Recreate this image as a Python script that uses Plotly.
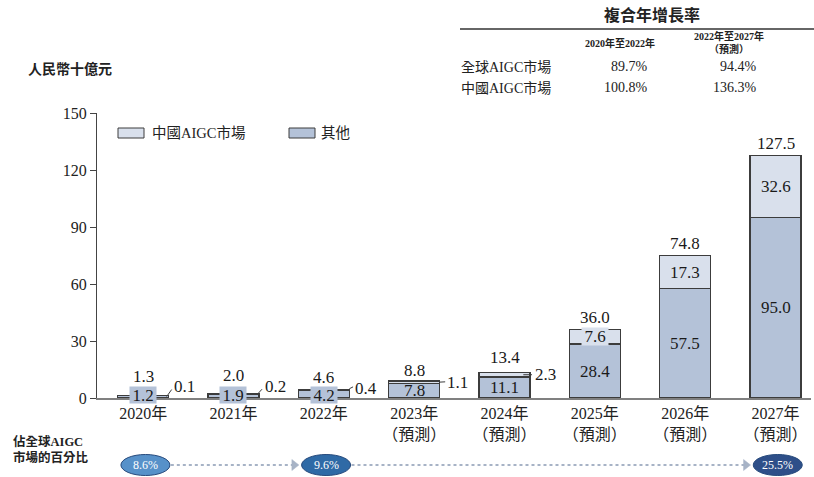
import plotly.graph_objects as go

# ---------------- data ----------------
years = ["2020年", "2021年", "2022年", "2023年", "2024年", "2025年", "2026年", "2027年"]
tick_labels = ["2020年", "2021年", "2022年",
               "2023年<br>（預測）", "2024年<br>（預測）", "2025年<br>（預測）",
               "2026年<br>（預測）", "2027年<br>（預測）"]
other_values = [1.2, 1.9, 4.2, 7.8, 11.1, 28.4, 57.5, 95.0]
china_values = [0.1, 0.2, 0.4, 1.1, 2.3, 7.6, 17.3, 32.6]
total_values = [1.3, 2.0, 4.6, 8.8, 13.4, 36.0, 74.8, 127.5]
y_ticks = [0, 30, 60, 90, 120, 150]

series_names = ["中國AIGC市場", "其他"]

share_years = ["2020年", "2022年", "2027年"]
share_labels = ["8.6%", "9.6%", "25.5%"]

cagr_title = "複合年增長率"
cagr_periods = ["2020年至2022年", "2022年至2027年<br>（預測）"]
cagr_rows = ["全球AIGC市場", "中國AIGC市場"]
cagr_global = ["89.7%", "94.4%"]
cagr_china = ["100.8%", "136.3%"]

unit_label = "人民幣十億元"
share_title = "佔全球AIGC<br>市場的百分比"

# ---------------- style ----------------
FONT = "Liberation Serif, Times New Roman, Noto Sans CJK TC, serif"
LIGHT = "#d9e0ec"
DARK = "#b4c2d8"
EDGE = "#3c3c3c"
W, H = 814, 477
ML, MR, MT, MB = 97, 3, 113, 79
PW, PH = W - ML - MR, H - MT - MB
BAR_W = 0.565
HALF = BAR_W / 2


def px(xp):
    return (xp - ML) / PW


def py(yp):
    return (H - MB - yp) / PH


idx = list(range(len(years)))

fig = go.Figure()
fig.add_trace(go.Bar(x=idx, y=other_values, width=BAR_W, name=series_names[1],
                     marker=dict(color=DARK, line=dict(color=EDGE, width=1.2)),
                     showlegend=False))
fig.add_trace(go.Bar(x=idx, y=china_values, width=BAR_W, name=series_names[0],
                     marker=dict(color=LIGHT, line=dict(color=EDGE, width=1.2)),
                     showlegend=False))

ann = []
shapes = []
lab_font = dict(family=FONT, size=17, color="#1a1a1a")

# totals above bars
total_shift = [19.5, 19.5, 12.5, 11, 15.5, 12.6, 13, 12.7]
for i in idx:
    ann.append(dict(x=i, y=total_values[i], text=f"{total_values[i]:.1f}", showarrow=False,
                    yanchor="middle", yshift=total_shift[i], height=16, font=lab_font))

# bottom-segment labels
for i in idx:
    if i <= 2:
        ann.append(dict(x=i, y=0, text=f"{other_values[i]:.1f}", showarrow=False,
                        yanchor="middle", yshift=3, bgcolor=DARK, width=26, height=16,
                        borderpad=0, font=lab_font))
    else:
        ann.append(dict(x=i, y=other_values[i] / 2, text=f"{other_values[i]:.1f}",
                        showarrow=False, yanchor="middle", font=lab_font))

# top-segment labels inside (big bars)
for i in idx[5:]:
    a = dict(x=i, y=other_values[i] + china_values[i] / 2, text=f"{china_values[i]:.1f}",
             showarrow=False, yanchor="middle", font=lab_font)
    if i == 5:
        a.update(bgcolor=LIGHT, width=26, height=17, borderpad=0)
    ann.append(a)

# leader-line labels for small top segments
leaders = {
    0: dict(ymode="top", line=(-2, -1, 3, 6), tx=3.5, ty=8.8),
    1: dict(ymode="top", line=(-2, -0.5, 3, 5), tx=3.7, ty=7.5),
    2: dict(ymode="top", line=(0, 0.5, 3.7, 2.4), tx=4, ty=1.0),
    3: dict(ymode="mid", line=(0, 0, 5.5, 0.3), tx=5.5, ty=-0.5),
    4: dict(ymode="mid", line=(-6.7, 0, 2, 0), tx=3.3, ty=0.5),
}
for i, spec in leaders.items():
    xr = i + HALF
    if spec["ymode"] == "top":
        yr = total_values[i]
    else:
        yr = other_values[i] + china_values[i] / 2
    x0, y0, x1, y1 = spec["line"]
    shapes.append(dict(type="line", xref="x", yref="y", xsizemode="pixel", ysizemode="pixel",
                       xanchor=xr, yanchor=yr, x0=x0, x1=x1, y0=y0, y1=y1,
                       line=dict(color=EDGE, width=1)))
    ann.append(dict(x=xr, y=yr, text=f"{china_values[i]:.1f}", showarrow=False,
                    xanchor="left", yanchor="middle", xshift=spec["tx"], yshift=spec["ty"],
                    font=lab_font))

# legend (custom)
leg_items = [(118, LIGHT, series_names[0], 150), (289, DARK, series_names[1], 319)]
for x0, col, name, tx in leg_items:
    shapes.append(dict(type="rect", xref="paper", yref="paper", x0=px(x0), x1=px(x0 + 26),
                       y0=py(138), y1=py(128), fillcolor=col, line=dict(color=EDGE, width=1)))
    ann.append(dict(xref="paper", yref="paper", x=px(tx), y=py(133), text=name,
                    showarrow=False, xanchor="left", yanchor="middle",
                    font=dict(family=FONT, size=14.5, color="#222")))

# unit label
ann.append(dict(xref="paper", yref="paper", x=px(26), y=py(69), text=f"<b>{unit_label}</b>",
                showarrow=False, xanchor="left", yanchor="middle",
                font=dict(family=FONT, size=14, color="#222")))

# CAGR table
tf = dict(family=FONT, size=14, color="#222")
ann.append(dict(xref="paper", yref="paper", x=px(702), y=py(15), text=f"<b>{cagr_title}</b>",
                showarrow=False, yanchor="middle", font=dict(family=FONT, size=16, color="#222")))
shapes.append(dict(type="line", xref="paper", yref="paper", x0=px(460), x1=px(814),
                   y0=py(29), y1=py(29), line=dict(color="#333", width=1.5)))
ann.append(dict(xref="paper", yref="paper", x=px(657), y=py(43), text=f"<b>{cagr_periods[0]}</b>",
                showarrow=False, yanchor="middle", font=dict(family=FONT, size=10, color="#222")))
ann.append(dict(xref="paper", yref="paper", x=px(766), y=py(42.5), text=f"<b>{cagr_periods[1]}</b>",
                showarrow=False, yanchor="middle", font=dict(family=FONT, size=10, color="#222")))
row_y = [67, 88]
row_vals = [cagr_global, cagr_china]
for r, name in enumerate(cagr_rows):
    ann.append(dict(xref="paper", yref="paper", x=px(459), y=py(row_y[r]), text=name,
                    showarrow=False, xanchor="left", yanchor="middle", font=tf))
    ann.append(dict(xref="paper", yref="paper", x=px(650), y=py(row_y[r]), text=row_vals[r][0],
                    showarrow=False, yanchor="middle", font=tf))
    ann.append(dict(xref="paper", yref="paper", x=px(759), y=py(row_y[r]), text=row_vals[r][1],
                    showarrow=False, yanchor="middle", font=tf))

# share of global row
ann.append(dict(xref="paper", yref="paper", x=px(11), y=py(449), text=f"<b>{share_title}</b>",
                showarrow=False, xanchor="left", yanchor="middle", align="left",
                font=dict(family=FONT, size=12.5, color="#222")))
ell_cols = ["#5791c9", "#2f6aa6", "#2e4f89"]
ell_cy = py(465)
ell_hh = 10.5 / PH
ell_hw = 24.5 / 90.33
share_idx = [years.index(y) for y in share_years]
for k, (si, lab) in enumerate(zip(share_idx, share_labels)):
    cx = si + 0.025
    shapes.append(dict(type="circle", xref="x", yref="paper", x0=cx - ell_hw, x1=cx + ell_hw,
                       y0=ell_cy - ell_hh, y1=ell_cy + ell_hh, fillcolor=ell_cols[k],
                       line=dict(color="#274a7c", width=1)))
    ann.append(dict(x=cx, xref="x", yref="paper", y=ell_cy, text=lab, showarrow=False,
                    yanchor="middle", font=dict(family=FONT, size=12, color="white")))
ARROW = "#a7b3c6"
for k in range(len(share_idx) - 1):
    xa = share_idx[k] + 0.025 + ell_hw + 0.01
    xb = share_idx[k + 1] + 0.025 - ell_hw - 0.03
    shapes.append(dict(type="line", xref="x", yref="paper", x0=xa, x1=xb - 0.05,
                       y0=ell_cy, y1=ell_cy, line=dict(color=ARROW, width=2.2, dash="dot")))
    hw = 7 / 90.33
    hh = 5.5 / PH
    shapes.append(dict(type="path", xref="x", yref="paper",
                       path=f"M {xb - hw} {ell_cy + hh} L {xb} {ell_cy} L {xb - hw} {ell_cy - hh} Z",
                       fillcolor=ARROW, line=dict(color=ARROW, width=0.5)))

fig.update_layout(
    width=W, height=H, barmode="stack",
    margin=dict(l=ML, r=MR, t=MT, b=MB, pad=0),
    plot_bgcolor="white", paper_bgcolor="white",
    font=dict(family=FONT, size=16, color="#222"),
    annotations=ann, shapes=shapes, showlegend=False,
    xaxis=dict(range=[-0.511, 7.393], tickvals=idx, ticktext=tick_labels, showgrid=False,
               zeroline=False, showline=True, linecolor="#808080", linewidth=1.6,
               ticks="", tickfont=dict(family=FONT, size=16, color="#222"), fixedrange=True),
    yaxis=dict(range=[0, 150], tickvals=y_ticks, showgrid=False, zeroline=False,
               showline=True, linecolor="#444", linewidth=1, ticks="outside", ticklen=6,
               tickcolor="#444", tickfont=dict(family=FONT, size=16, color="#222"),
               fixedrange=True),
)

fig.write_html("out.html", config={"displayModeBar": False},
               post_script="document.body.style.margin='0';document.body.style.overflow='hidden';")
